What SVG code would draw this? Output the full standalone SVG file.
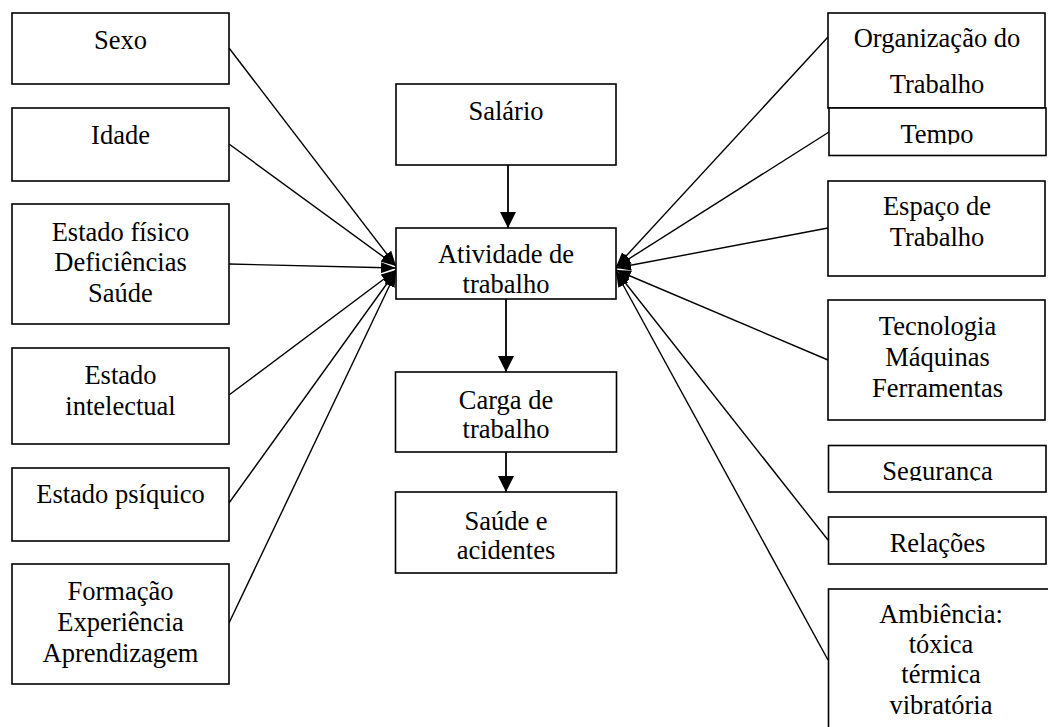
<svg xmlns="http://www.w3.org/2000/svg" width="1048" height="727" viewBox="0 0 1048 727">
<style>
.box{fill:#fff;stroke:#000;stroke-width:1.6}
.t{font-family:'Liberation Serif','DejaVu Serif',serif;font-size:26.5px;fill:#000;text-anchor:middle}
.c{stroke:#000;stroke-width:1.4;fill:none}
.v{stroke:#000;stroke-width:1.8;fill:none}
</style>
<defs>
<marker id="ah" markerUnits="userSpaceOnUse" markerWidth="15" markerHeight="11" refX="15" refY="5.5" orient="auto"><path d="M0,0 L15,5.5 L0,11 z" fill="#000"/></marker>
<marker id="av" markerUnits="userSpaceOnUse" markerWidth="16" markerHeight="16" refX="16" refY="8" orient="auto"><path d="M0,0 L16,8 L0,16 z" fill="#000"/></marker>
<clipPath id="clipTempo"><rect x="828" y="108" width="220" height="36.5"/></clipPath>
<clipPath id="clipSeg"><rect x="828" y="445" width="220" height="36"/></clipPath>
</defs>
<rect width="1048" height="727" fill="#fff"/>

<g id="connectors">
<line class="c" x1="229" y1="48" x2="396" y2="266" marker-end="url(#ah)"/>
<line class="c" x1="229" y1="144" x2="396" y2="266" marker-end="url(#ah)"/>
<line class="c" x1="229" y1="264" x2="396" y2="268" marker-end="url(#ah)"/>
<line class="c" x1="229" y1="395" x2="396" y2="270" marker-end="url(#ah)"/>
<line class="c" x1="229" y1="503" x2="396" y2="271" marker-end="url(#ah)"/>
<line class="c" x1="229" y1="623" x2="396" y2="272" marker-end="url(#ah)"/>
<line class="c" x1="828" y1="37" x2="616" y2="267" marker-end="url(#ah)"/>
<line class="c" x1="829" y1="132" x2="616" y2="267" marker-end="url(#ah)"/>
<line class="c" x1="828" y1="228" x2="616" y2="268" marker-end="url(#ah)"/>
<line class="c" x1="828" y1="360" x2="616" y2="270" marker-end="url(#ah)"/>
<line class="c" x1="828" y1="540" x2="616" y2="271" marker-end="url(#ah)"/>
<line class="c" x1="828" y1="660" x2="616" y2="272" marker-end="url(#ah)"/>
<line class="v" x1="508" y1="165" x2="508" y2="228" marker-end="url(#av)"/>
<line class="v" x1="506" y1="299" x2="506" y2="372" marker-end="url(#av)"/>
<line class="v" x1="506" y1="452" x2="506" y2="492" marker-end="url(#av)"/>
</g>

<g id="sexo"><rect class="box" x="12" y="13" width="217" height="71"/><text class="t" x="120.5" y="49">Sexo</text></g>
<g id="idade"><rect class="box" x="12" y="108" width="217" height="73"/><text class="t" x="120.5" y="144">Idade</text></g>
<g id="estado-fisico"><rect class="box" x="12" y="204" width="217" height="120"/><text class="t" x="120.5" y="240.5">Estado físico</text><text class="t" x="120.5" y="270.5">Deficiências</text><text class="t" x="120.5" y="301.5">Saúde</text></g>
<g id="estado-intelectual"><rect class="box" x="12" y="348" width="217" height="96"/><text class="t" x="120.5" y="383.5">Estado</text><text class="t" x="120.5" y="415">intelectual</text></g>
<g id="estado-psiquico"><rect class="box" x="12" y="468" width="217" height="73"/><text class="t" x="120.5" y="503">Estado psíquico</text></g>
<g id="formacao"><rect class="box" x="12" y="564" width="217" height="120"/><text class="t" x="120.5" y="600">Formação</text><text class="t" x="120.5" y="630.5">Experiência</text><text class="t" x="120.5" y="661.5">Aprendizagem</text></g>

<g id="salario"><rect class="box" x="396" y="84" width="220" height="81"/><text class="t" x="506" y="120">Salário</text></g>
<g id="atividade"><rect class="box" x="396" y="228" width="220" height="71"/><text class="t" x="506" y="263">Atividade de</text><text class="t" x="506" y="293">trabalho</text></g>
<g id="carga"><rect class="box" x="395.5" y="372" width="221" height="80"/><text class="t" x="506" y="408.5">Carga de</text><text class="t" x="506" y="437.5">trabalho</text></g>
<g id="saude"><rect class="box" x="395.5" y="492" width="221" height="81"/><text class="t" x="506" y="530">Saúde e</text><text class="t" x="506" y="559">acidentes</text></g>

<g id="organizacao"><rect class="box" x="828" y="13" width="217" height="95"/><text class="t" x="937" y="46.5">Organização do</text><text class="t" x="937" y="92.5">Trabalho</text></g>
<g id="tempo"><rect class="box" x="829" y="108" width="217" height="47.5"/><text class="t" x="937" y="142.5" clip-path="url(#clipTempo)">Tempo</text></g>
<g id="espaco"><rect class="box" x="828" y="181" width="217" height="95"/><text class="t" x="937" y="215">Espaço de</text><text class="t" x="937" y="246">Trabalho</text></g>
<g id="tecnologia"><rect class="box" x="828" y="300" width="217" height="120"/><text class="t" x="937.5" y="335">Tecnologia</text><text class="t" x="937.5" y="365.5">Máquinas</text><text class="t" x="937.5" y="397">Ferramentas</text></g>
<g id="seguranca"><rect class="box" x="828.5" y="445.5" width="217.5" height="46.5"/><text class="t" x="937.5" y="479.5" clip-path="url(#clipSeg)">Segurança</text></g>
<g id="relacoes"><rect class="box" x="828.5" y="517" width="217.5" height="47"/><text class="t" x="937.5" y="551.5">Relações</text></g>
<g id="ambiencia"><rect class="box" x="828.5" y="589" width="226" height="160"/><text class="t" x="941" y="623">Ambiência:</text><text class="t" x="941" y="653">tóxica</text><text class="t" x="941" y="714">vibratória</text><text class="t" x="941" y="683">térmica</text></g>
</svg>
